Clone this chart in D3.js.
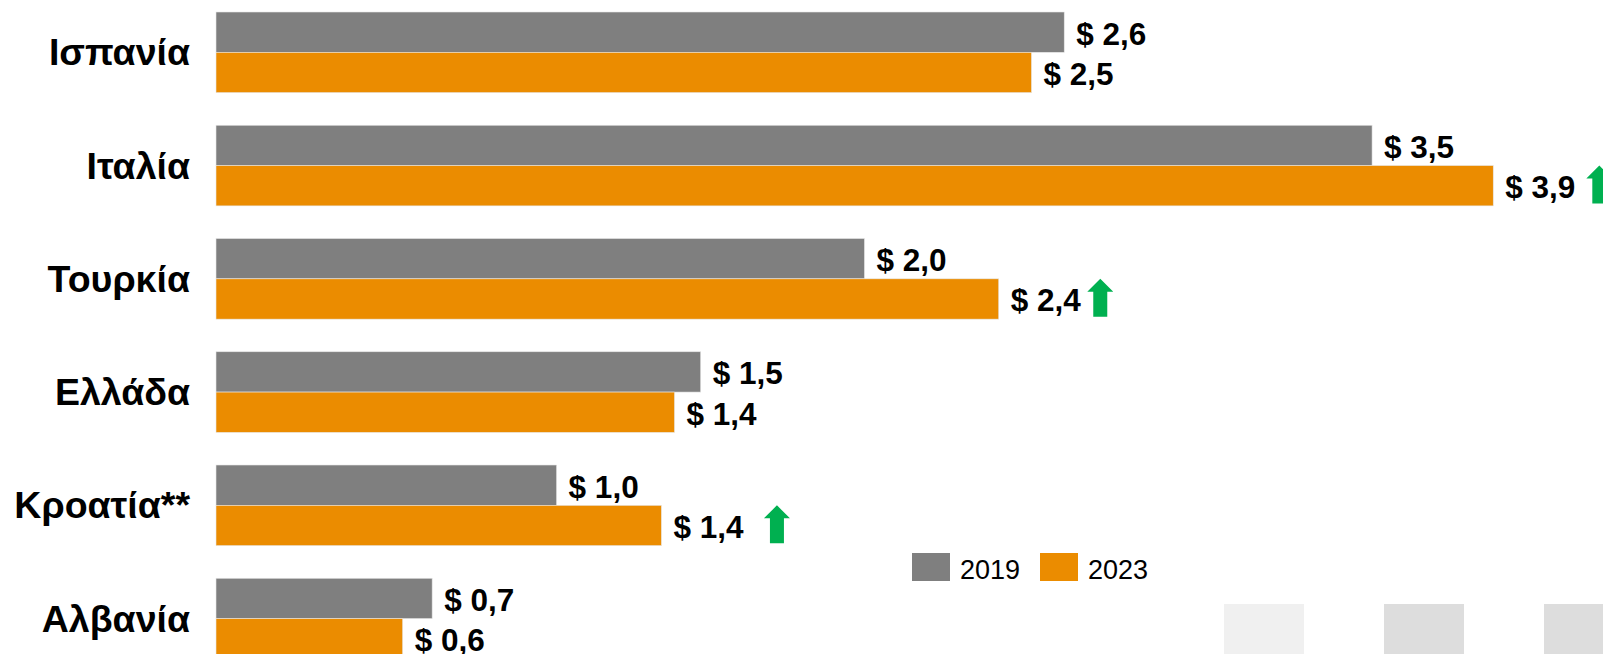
<!DOCTYPE html>
<html>
<head>
<meta charset="utf-8">
<script src="https://cdn.jsdelivr.net/npm/d3@7"></script>
<style>
  body { margin: 0; background: #fff; }
  text { font-family: Arial, "Liberation Sans", sans-serif; }
</style>
</head>
<body>
<div id="chart"></div>
<script>
// data (US$ per ... , 2019 vs 2023)
var countries = ['Ισπανία', 'Ιταλία', 'Τουρκία', 'Ελλάδα', 'Κροατία**', 'Αλβανία'];
var years = ['2019', '2023'];
var values2019 = [2.59, 3.53, 1.98, 1.48, 1.04, 0.66];
var values2023 = [2.49, 3.90, 2.39, 1.40, 1.36, 0.57];
// countries that got a green "up" arrow next to their 2023 bar
var arrowCountries = ['Ιταλία', 'Τουρκία', 'Κροατία**'];

var width = 1603, height = 654;
var colors = { '2019': '#7f7f7f', '2023': '#eb8c00' };
var arrowGap = { 'Ιταλία': 11, 'Τουρκία': 6, 'Κροατία**': 20 };

var svg = d3.select('#chart').append('svg')
    .attr('width', width)
    .attr('height', height);

// light boxes in the bottom right corner
var boxes = [{ x: 1224, c: '#f0f0f0' }, { x: 1384, c: '#dddddd' }, { x: 1544, c: '#dddddd' }];
svg.selectAll('rect.box')
    .data(boxes)
    .enter()
    .append('rect')
    .attr('class', 'box')
    .attr('x', function (d) { return d.x; })
    .attr('y', 604)
    .attr('width', 80)
    .attr('height', 60)
    .attr('fill', function (d) { return d.c; });

var x = d3.scaleLinear().domain([0, 4]).range([216, 216 + 4 * 327.5]);
var y = d3.scaleBand().domain(countries).range([12, 658.9]).paddingInner(0.288).paddingOuter(0);
var yInner = d3.scaleBand().domain(years).range([0, y.bandwidth()]);

var rows = countries.map(function (c, i) {
    return { country: c, '2019': values2019[i], '2023': values2023[i] };
});

var fmt = function (v) { return '$ ' + d3.format('.1f')(v).replace('.', ','); };

var group = svg.selectAll('g.row')
    .data(rows)
    .enter()
    .append('g')
    .attr('class', 'row')
    .attr('transform', function (d) { return 'translate(0,' + y(d.country) + ')'; });

// bars
group.selectAll('rect')
    .data(function (d) { return years.map(function (yr) { return { year: yr, value: d[yr] }; }); })
    .enter()
    .append('rect')
    .attr('x', x(0))
    .attr('y', function (d) { return yInner(d.year); })
    .attr('width', function (d) { return x(d.value) - x(0); })
    .attr('height', yInner.bandwidth())
    .attr('fill', function (d) { return colors[d.year]; })
    .attr('stroke', '#e6e6e6')
    .attr('stroke-width', 0.6);

// value labels
group.selectAll('text.val')
    .data(function (d) { return years.map(function (yr) { return { year: yr, value: d[yr] }; }); })
    .enter()
    .append('text')
    .attr('class', 'val')
    .attr('x', function (d) { return x(d.value) + 12; })
    .attr('y', function (d) { return yInner(d.year) + yInner.bandwidth() / 2 + 12.5; })
    .attr('font-size', 31.5)
    .attr('font-weight', 'bold')
    .attr('fill', '#000')
    .text(function (d) { return fmt(d.value); });

// category labels
group.append('text')
    .attr('x', 190)
    .attr('y', y.bandwidth() / 2 + 13)
    .attr('text-anchor', 'end')
    .attr('font-size', 37.5)
    .attr('font-weight', 'bold')
    .attr('fill', '#000')
    .text(function (d) { return d.country; });

// green arrows after the 2023 label
group.filter(function (d) { return arrowCountries.indexOf(d.country) >= 0; })
    .each(function (d) {
        var g = d3.select(this);
        var lbl = g.selectAll('text.val').filter(function (t) { return t.year === '2023'; }).node();
        var x0 = lbl.getBBox().x + lbl.getBBox().width + arrowGap[d.country];
        var y0 = yInner('2023');
        var w = 26, h = 38, head = 13, shaft = 14;
        var pts = [
            [x0 + w / 2, y0], [x0 + w, y0 + head], [x0 + (w + shaft) / 2, y0 + head],
            [x0 + (w + shaft) / 2, y0 + h], [x0 + (w - shaft) / 2, y0 + h],
            [x0 + (w - shaft) / 2, y0 + head], [x0, y0 + head]
        ];
        g.append('path')
            .attr('d', d3.line()(pts) + 'Z')
            .attr('fill', '#00b050');
    });

// legend
var legend = svg.selectAll('g.legend')
    .data(years)
    .enter()
    .append('g')
    .attr('class', 'legend')
    .attr('transform', function (d, i) { return 'translate(' + (912 + i * 128) + ',553)'; });

legend.append('rect')
    .attr('width', 38)
    .attr('height', 28)
    .attr('fill', function (d) { return colors[d]; });

legend.append('text')
    .attr('x', 48)
    .attr('y', 26)
    .attr('font-size', 27)
    .attr('fill', '#000')
    .text(function (d) { return d; });
</script>
</body>
</html>
